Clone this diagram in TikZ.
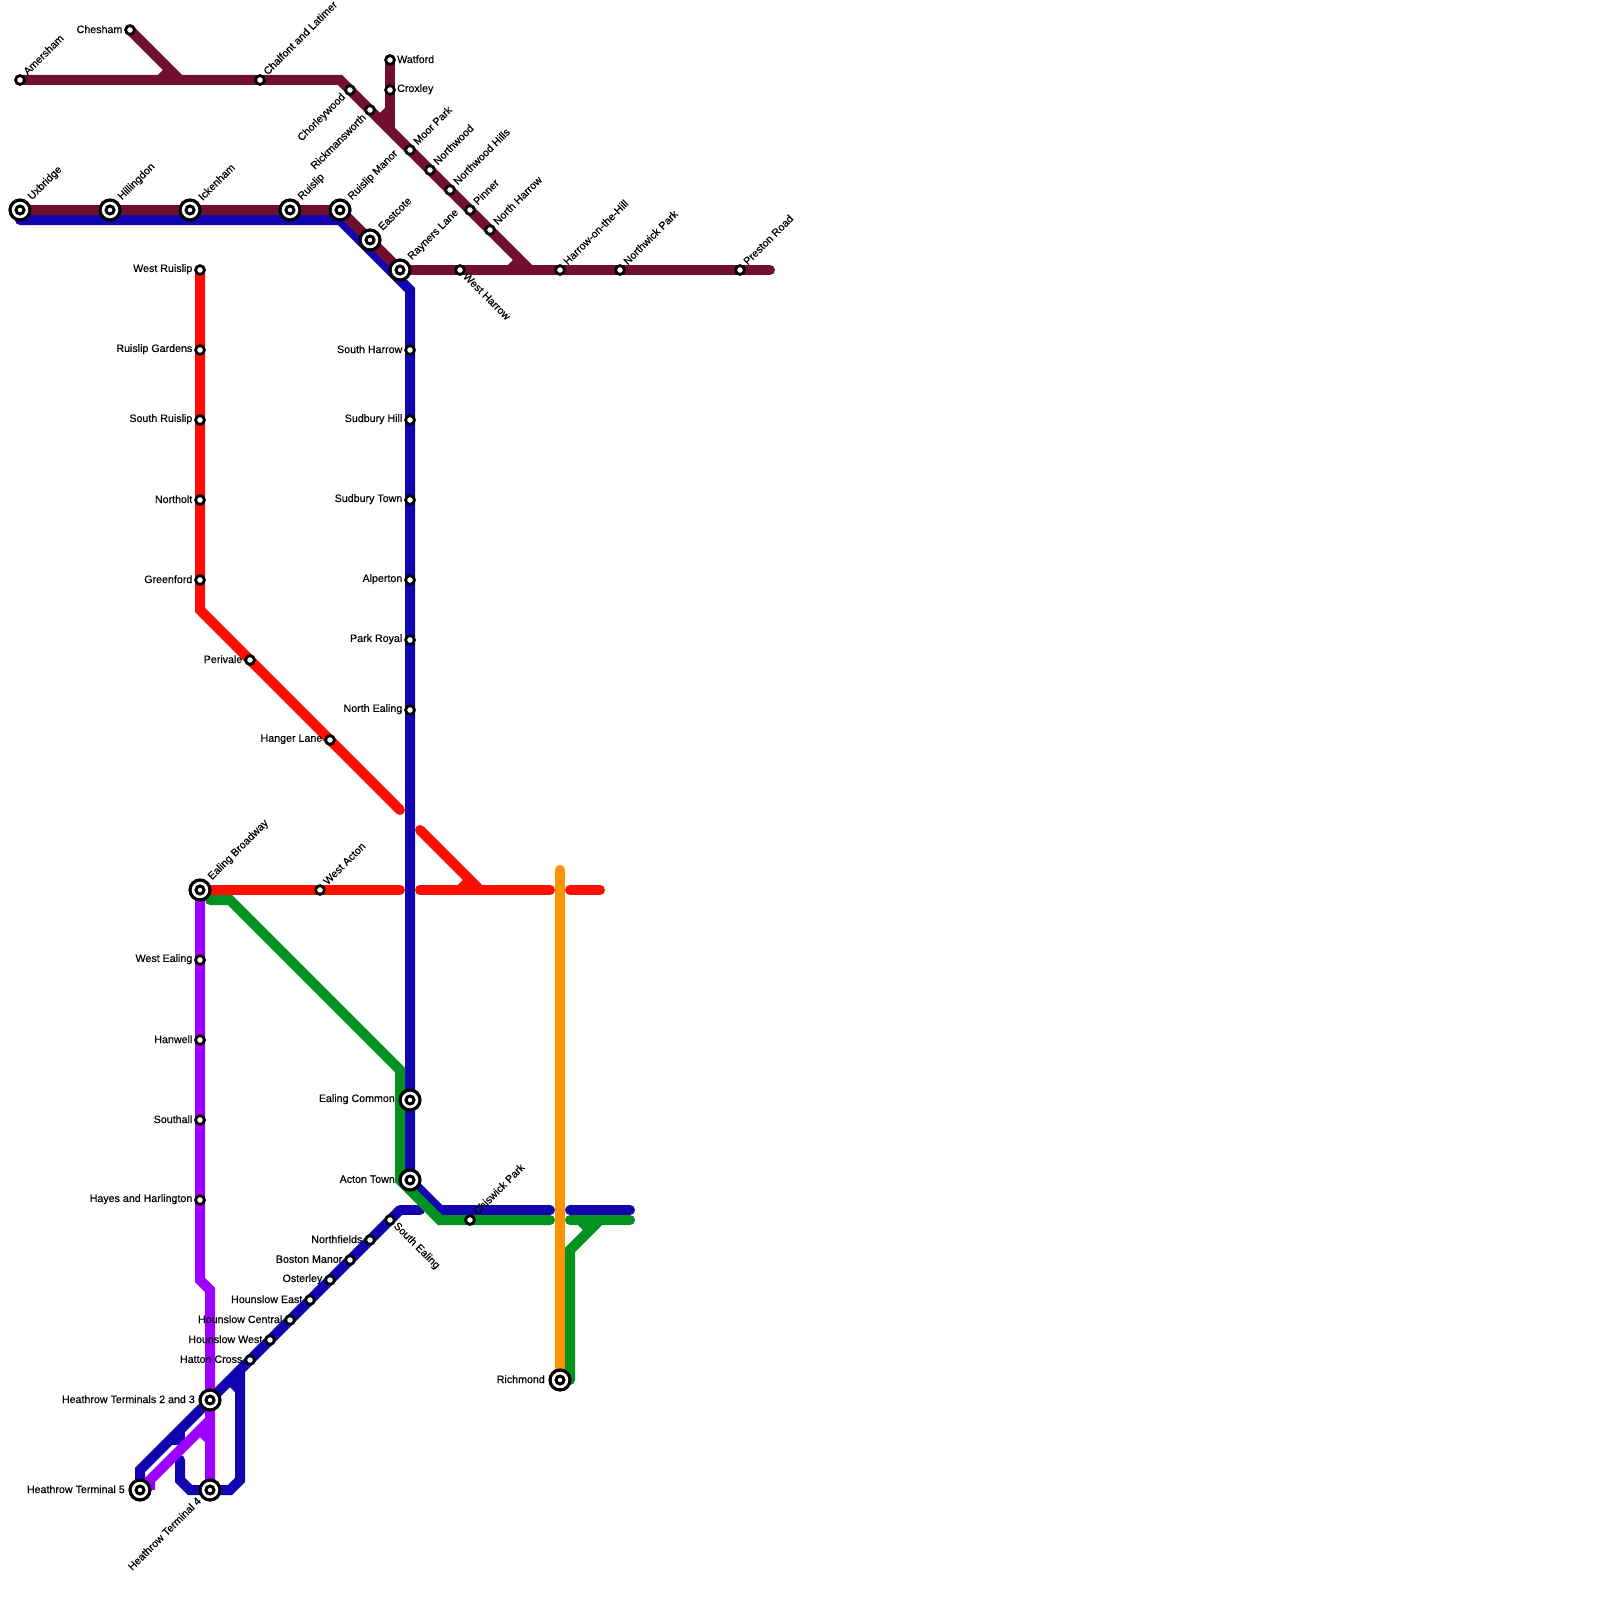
\documentclass[tikz,border=0pt]{standalone}
\usepackage{fontspec}
\setmainfont{Liberation Sans}
\newfontfamily\labelfont[FakeBold=0.4]{Liberation Sans}
\usetikzlibrary{calc,backgrounds}
\definecolor{cmaroon}{HTML}{70102E}
\definecolor{cblue}{HTML}{1205B0}
\definecolor{cred}{HTML}{FF0D00}
\definecolor{cpurple}{HTML}{9E00FF}
\definecolor{cgreen}{HTML}{03921F}
\definecolor{corange}{HTML}{FF9200}
\tikzset{
  st/.style={circle,draw=black,fill=white,line width=2.8pt,inner sep=0pt,outer sep=0pt,minimum size=8.8pt},
  bg/.style={circle,draw=black,fill=white,line width=3.2pt,inner sep=0pt,outer sep=0pt,minimum size=20pt,
    path picture={\draw[black,line width=3pt,fill=white] (path picture bounding box.center) circle (4pt);}},
  lab/.style={font=\labelfont\fontsize{10.67}{11}\selectfont,inner sep=0pt,text=black},
  lw/.style={lab,anchor=east},
  le/.style={lab,anchor=west},
  lur/.style={lab,anchor=west,rotate=45},
  ldr/.style={lab,anchor=west,rotate=-45},
  lul/.style={lab,anchor=east,rotate=45},
  ln/.style={line width=10pt,line join=miter},
  lnr/.style={ln,line cap=round},
}
\newcommand{\lbl}[4]{\node[#2] (l#1) at ($(#1)+(#3)$) {#4};}
\begin{document}
\begin{tikzpicture}[x=1pt,y=-1pt]
\useasboundingbox (0,0) rectangle (1600,1600);
% stations
\node[st] (ame) at (20,80) {};
\node[st] (che) at (130,30) {};
\node[st] (cha) at (260,80) {};
\node[st] (chw) at (350,90) {};
\node[st] (ric) at (370,110) {};
\node[st] (wat) at (390,60) {};
\node[st] (cro) at (390,90) {};
\node[st] (moo) at (410,150) {};
\node[st] (nwd) at (430,170) {};
\node[st] (nwh) at (450,190) {};
\node[st] (pin) at (470,210) {};
\node[st] (nha) at (490,230) {};
\node[bg] (uxb) at (20,210) {};
\node[bg] (hil) at (110,210) {};
\node[bg] (ick) at (190,210) {};
\node[bg] (rui) at (290,210) {};
\node[bg] (rum) at (340,210) {};
\node[bg] (eas) at (370,240) {};
\node[bg] (ray) at (400,270) {};
\node[st] (wha) at (460,270) {};
\node[st] (hoh) at (560,270) {};
\node[st] (nwp) at (620,270) {};
\node[st] (pre) at (740,270) {};
\node[st] (wru) at (200,270) {};
\node[st] (rug) at (200,350) {};
\node[st] (sru) at (200,420) {};
\node[st] (nor) at (200,500) {};
\node[st] (gre) at (200,580) {};
\node[st] (per) at (250,660) {};
\node[st] (han) at (330,740) {};
\node[st] (sha) at (410,350) {};
\node[st] (suh) at (410,420) {};
\node[st] (sut) at (410,500) {};
\node[st] (alp) at (410,580) {};
\node[st] (par) at (410,640) {};
\node[st] (nea) at (410,710) {};
\node[bg] (eab) at (200,890) {};
\node[st] (wac) at (320,890) {};
\node[st] (wea) at (200,960) {};
\node[st] (hnw) at (200,1040) {};
\node[st] (sou) at (200,1120) {};
\node[st] (hay) at (200,1200) {};
\node[bg] (eac) at (410,1100) {};
\node[bg] (act) at (410,1180) {};
\node[st] (chi) at (470,1220) {};
\node[st] (sea) at (390,1220) {};
\node[st] (nfd) at (370,1240) {};
\node[st] (bos) at (350,1260) {};
\node[st] (ost) at (330,1280) {};
\node[st] (hne) at (310,1300) {};
\node[st] (hnc) at (290,1320) {};
\node[st] (hnw2) at (270,1340) {};
\node[st] (hat) at (250,1360) {};
\node[bg] (t23) at (210,1400) {};
\node[bg] (t4) at (210,1490) {};
\node[bg] (t5) at (140,1490) {};
\node[bg] (rmd) at (560,1380) {};
% labels
\lbl{ame}{lur}{5,-7}{Amersham}
\lbl{che}{lw}{-7.5,-0.8}{Chesham}
\lbl{cha}{lur}{5,-7}{Chalfont and Latimer}
\lbl{chw}{lul}{-6,5.5}{Chorleywood}
\lbl{ric}{lul}{-6,5.5}{Rickmansworth}
\lbl{wat}{le}{7,-0.8}{Watford}
\lbl{cro}{le}{7,-0.8}{Croxley}
\lbl{moo}{lur}{5,-7}{Moor Park}
\lbl{nwd}{lur}{5,-7}{Northwood}
\lbl{nwh}{lur}{5,-7}{Northwood Hills}
\lbl{pin}{lur}{5,-7}{Pinner}
\lbl{nha}{lur}{5,-7}{North Harrow}
\lbl{uxb}{lur}{10,-11.5}{Uxbridge}
\lbl{hil}{lur}{10,-11.5}{Hillingdon}
\lbl{ick}{lur}{10,-11.5}{Ickenham}
\lbl{rui}{lur}{10,-11.5}{Ruislip}
\lbl{rum}{lur}{10,-11.5}{Ruislip Manor}
\lbl{eas}{lur}{10,-11.5}{Eastcote}
\lbl{ray}{lur}{10,-11.5}{Rayners Lane}
\lbl{wha}{ldr}{5,4.5}{West Harrow}
\lbl{hoh}{lur}{5,-7}{Harrow-on-the-Hill}
\lbl{nwp}{lur}{5,-7}{Northwick Park}
\lbl{pre}{lur}{5,-7}{Preston Road}
\lbl{wru}{lw}{-7.5,-0.8}{West Ruislip}
\lbl{rug}{lw}{-7.5,-0.8}{Ruislip Gardens}
\lbl{sru}{lw}{-7.5,-0.8}{South Ruislip}
\lbl{nor}{lw}{-7.5,-0.8}{Northolt}
\lbl{gre}{lw}{-7.5,-0.8}{Greenford}
\lbl{per}{lw}{-7.5,-0.8}{Perivale}
\lbl{han}{lw}{-7.5,-0.8}{Hanger Lane}
\lbl{sha}{lw}{-7.5,-0.8}{South Harrow}
\lbl{suh}{lw}{-7.5,-0.8}{Sudbury Hill}
\lbl{sut}{lw}{-7.5,-0.8}{Sudbury Town}
\lbl{alp}{lw}{-7.5,-0.8}{Alperton}
\lbl{par}{lw}{-7.5,-0.8}{Park Royal}
\lbl{nea}{lw}{-7.5,-0.8}{North Ealing}
\lbl{eab}{lur}{10,-11.5}{Ealing Broadway}
\lbl{wac}{lur}{5,-7}{West Acton}
\lbl{wea}{lw}{-7.5,-0.8}{West Ealing}
\lbl{hnw}{lw}{-7.5,-0.8}{Hanwell}
\lbl{sou}{lw}{-7.5,-0.8}{Southall}
\lbl{hay}{lw}{-7.5,-0.8}{Hayes and Harlington}
\lbl{eac}{lw}{-15,-0.8}{Ealing Common}
\lbl{act}{lw}{-15,-0.8}{Acton Town}
\lbl{chi}{lur}{5,-7}{Chiswick Park}
\lbl{sea}{ldr}{5,4.5}{South Ealing}
\lbl{nfd}{lw}{-7.5,-0.8}{Northfields}
\lbl{bos}{lw}{-7.5,-0.8}{Boston Manor}
\lbl{ost}{lw}{-7.5,-0.8}{Osterley}
\lbl{hne}{lw}{-7.5,-0.8}{Hounslow East}
\lbl{hnc}{lw}{-7.5,-0.8}{Hounslow Central}
\lbl{hnw2}{lw}{-7.5,-0.8}{Hounslow West}
\lbl{hat}{lw}{-7.5,-0.8}{Hatton Cross}
\lbl{t23}{lw}{-15,-0.8}{Heathrow Terminals 2 and 3}
\lbl{t4}{lul}{-11,9}{Heathrow Terminal 4}
\lbl{t5}{lw}{-15,-0.8}{Heathrow Terminal 5}
\lbl{rmd}{lw}{-15,-0.8}{Richmond}
% waypoints
\coordinate (a1) at (180,80); \coordinate (a2) at (170,70); \coordinate (a3) at (160,80);
\coordinate (b1) at (340,80); \coordinate (b2) at (530,270); \coordinate (b3) at (520,260); \coordinate (b4) at (510,270);
\coordinate (c1) at (390,130); \coordinate (c2) at (390,110); \coordinate (c3) at (380,120);
\coordinate (d1) at (770,270);
\coordinate (e0) at (20,220); \coordinate (e1) at (340,220); \coordinate (e2) at (410,290);
\coordinate (e3) at (440,1210); \coordinate (e4) at (550,1210); \coordinate (e5) at (570,1210); \coordinate (e6) at (630,1210);
\coordinate (g0) at (210,900); \coordinate (g1) at (230,900); \coordinate (g2) at (400,1070); \coordinate (g3) at (400,1180);
\coordinate (g4) at (440,1220); \coordinate (g5) at (550,1220); \coordinate (g6) at (570,1220); \coordinate (g7) at (630,1220);
\coordinate (g8) at (600,1220); \coordinate (g9) at (570,1250); \coordinate (g10) at (570,1380); \coordinate (g11) at (590,1230); \coordinate (g12) at (580,1220);
\coordinate (r1) at (200,610); \coordinate (r2) at (400,810); \coordinate (r3) at (420,830); \coordinate (r4) at (480,890);
\coordinate (r5) at (400,890); \coordinate (r6) at (420,890); \coordinate (r7) at (550,890); \coordinate (r8) at (570,890); \coordinate (r9) at (600,890);
\coordinate (r10) at (470,880); \coordinate (r11) at (460,890);
\coordinate (p1) at (200,1280); \coordinate (p2) at (210,1290); \coordinate (p3) at (210,1420); \coordinate (p4) at (150,1480); \coordinate (p5) at (150,1490);
\coordinate (p6) at (210,1440); \coordinate (p7) at (200,1430);
\coordinate (o1) at (560,870);
\coordinate (h1) at (140,1470); \coordinate (h2) at (400,1210); \coordinate (h3) at (420,1210);
\coordinate (i1) at (180,1460); \coordinate (i2) at (180,1480); \coordinate (i3) at (190,1490); \coordinate (i4) at (230,1490); \coordinate (i5) at (240,1480); \coordinate (i6) at (240,1370);
\coordinate (i7) at (240,1390); \coordinate (i8) at (230,1380);
\coordinate (i9) at (180,1430); \coordinate (i10) at (180,1440); \coordinate (i11) at (170,1440);
\begin{scope}[on background layer]
% blue
\draw[lnr,cblue] (e0) -- (e1) -- (e2) -- (act.center) -- (e3) -- (e4);
\draw[lnr,cblue] (e5) -- (e6);
\draw[ln,cblue] (t5.center) -- (h1) -- (h2);
\draw[lnr,cblue] (h2) -- (h3);
\draw[lnr,cblue] (i1) -- (i2) -- (i3) -- (i4) -- (i5) -- (i6);
\draw[ln,cblue] (i7) -- (i8);
\draw[ln,cblue] (i9) -- (i10) -- (i11);
% maroon
\draw[ln,cmaroon] (ame.center) -- (b1) -- (b2);
\draw[ln,cmaroon] (che.center) -- (a1);
\draw[ln,cmaroon] (a2) -- (a3);
\draw[ln,cmaroon] (b3) -- (b4);
\draw[ln,cmaroon] (wat.center) -- (c1);
\draw[ln,cmaroon] (c2) -- (c3);
\draw[ln,cmaroon] (uxb.center) -- (rum.center) -- (ray.center);
\draw[lnr,cmaroon] (ray.center) -- (d1);
% red
\draw[lnr,cred] (wru.center) -- (r1) -- (r2);
\draw[lnr,cred] (r3) -- (r4);
\draw[lnr,cred] (eab.center) -- (r5);
\draw[lnr,cred] (r6) -- (r7);
\draw[lnr,cred] (r8) -- (r9);
\draw[ln,cred] (r10) -- (r11);
% green
\draw[lnr,cgreen] (g0) -- (g1) -- (g2) -- (g3) -- (g4) -- (g5);
\draw[lnr,cgreen] (g6) -- (g7);
\draw[ln,cgreen] (g11) -- (g12);
\draw[lnr,cgreen] (g8) -- (g9) -- (g10);
% purple
\draw[ln,cpurple] (eab.center) -- (p1) -- (p2) -- (t4.center);
\draw[ln,cpurple] (p3) -- (p4) -- (p5);
\draw[ln,cpurple] (p6) -- (p7);
% orange
\draw[lnr,corange] (o1) -- (rmd.center);
\end{scope}
\end{tikzpicture}
\end{document}
